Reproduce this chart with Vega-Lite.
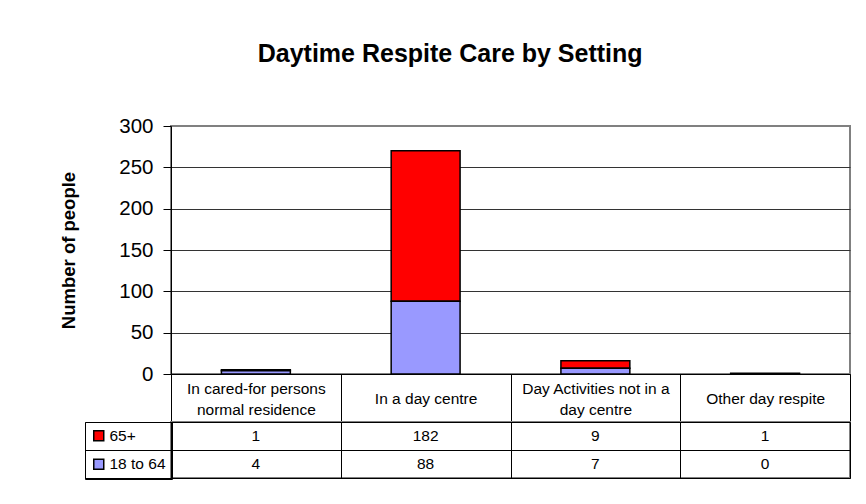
{
  "$schema": "https://vega.github.io/schema/vega-lite/v6.json",
  "background": "white",
  "padding": {"left": 58, "top": 42, "right": 10, "bottom": 10},
  "title": {"text": "Daytime Respite Care by Setting", "font": "Liberation Sans", "fontSize": 25, "fontWeight": "bold", "color": "black", "anchor": "middle", "dx": -5, "offset": 48},
  "datasets": {
    "d": [
      {"setting": "In cared-for persons normal residence", "group": "65+", "count": 1},
      {"setting": "In a day centre", "group": "65+", "count": 182},
      {"setting": "Day Activities not in a day centre", "group": "65+", "count": 9},
      {"setting": "Other day respite", "group": "65+", "count": 1},
      {"setting": "In cared-for persons normal residence", "group": "18 to 64", "count": 4},
      {"setting": "In a day centre", "group": "18 to 64", "count": 88},
      {"setting": "Day Activities not in a day centre", "group": "18 to 64", "count": 7},
      {"setting": "Other day respite", "group": "18 to 64", "count": 0}
    ]
  },
  "data": {"name": "d"},
  "spacing": 48,
  "bounds": "flush",
  "vconcat": [
    {
      "width": 679,
      "height": 248,
      "mark": {"type": "bar", "stroke": "black", "strokeWidth": 1.5, "width": {"band": 0.406}},
      "encoding": {
        "x": {
          "field": "setting", "type": "nominal",
          "sort": ["In cared-for persons normal residence", "In a day centre", "Day Activities not in a day centre", "Other day respite"],
          "scale": {"type": "band", "paddingInner": 0, "paddingOuter": 0},
          "axis": {
            "orient": "bottom", "title": null, "tickBand": "extent", "tickSize": 48, "tickColor": "black", "tickWidth": 1,
            "domainColor": "black", "domainWidth": 1, "labelBaseline": "middle",
            "labelPadding": {"condition": {"test": "datum.value == 'In a day centre' || datum.value == 'Other day respite'", "value": -24}, "value": -34},
            "labelFontSize": 15.5, "labelFont": "Liberation Sans", "labelColor": "black", "labelLineHeight": 21,
            "labelAngle": 0, "labelLimit": 0, "labelOverlap": false,
            "labelExpr": "datum.value == 'In cared-for persons normal residence' ? ['In cared-for persons', 'normal residence'] : datum.value == 'Day Activities not in a day centre' ? ['Day Activities not in a', 'day centre'] : datum.value"
          }
        },
        "y": {
          "field": "count", "type": "quantitative", "stack": "zero",
          "scale": {"domain": [0, 300], "nice": false},
          "axis": {
            "values": [0, 50, 100, 150, 200, 250, 300], "title": "Number of people",
            "titleFont": "Liberation Sans", "titleFontSize": 18.5, "titleFontWeight": "bold", "titleColor": "black", "titlePadding": 40,
            "labelFont": "Liberation Sans", "labelFontSize": 20.5, "labelColor": "black", "labelPadding": 10,
            "tickSize": 8, "tickColor": "black", "domainColor": "black", "grid": true,
            "gridColor": {"condition": {"test": "datum.value == 300", "value": "#808080"}, "value": "#333333"}
          }
        },
        "color": {
          "field": "group", "type": "nominal",
          "scale": {"domain": ["65+", "18 to 64"], "range": ["#FF0000", "#9999FF"]},
          "legend": {
            "title": null, "orient": "none", "legendX": -86, "legendY": 296, "direction": "vertical",
            "symbolType": "square", "symbolSize": 100, "symbolStrokeColor": "black", "symbolStrokeWidth": 1.5,
            "labelFontSize": 15.5, "labelFont": "Liberation Sans", "labelColor": "black", "labelOffset": 3,
            "rowPadding": 10.5, "padding": 6, "strokeColor": "black", "labelExpr": "datum.label + ' '"
          }
        },
        "order": {"field": "group", "sort": "ascending"}
      }
    },
    {
      "width": 679,
      "height": 56,
      "mark": {"type": "text", "font": "Liberation Sans", "fontSize": 15.5, "color": "black"},
      "encoding": {
        "x": {
          "field": "setting", "type": "nominal",
          "sort": ["In cared-for persons normal residence", "In a day centre", "Day Activities not in a day centre", "Other day respite"],
          "scale": {"type": "band", "paddingInner": 0, "paddingOuter": 0},
          "axis": {"orient": "bottom", "labels": false, "ticks": false, "domain": false, "title": null, "grid": true, "gridColor": "black", "gridWidth": 1, "tickBand": "extent"}
        },
        "y": {
          "field": "group", "type": "nominal", "sort": ["65+", "18 to 64"],
          "scale": {"type": "band", "paddingInner": 0, "paddingOuter": 0},
          "axis": {"orient": "left", "labels": false, "title": null, "tickBand": "extent", "tickSize": 86, "tickColor": "black", "domainColor": "black", "grid": true, "gridColor": "black"}
        },
        "text": {"field": "count", "type": "quantitative"}
      }
    }
  ],
  "resolve": {"scale": {"x": "shared"}},
  "config": {
    "view": {"stroke": "#808080", "strokeWidth": 2},
    "font": "Liberation Sans"
  }
}
